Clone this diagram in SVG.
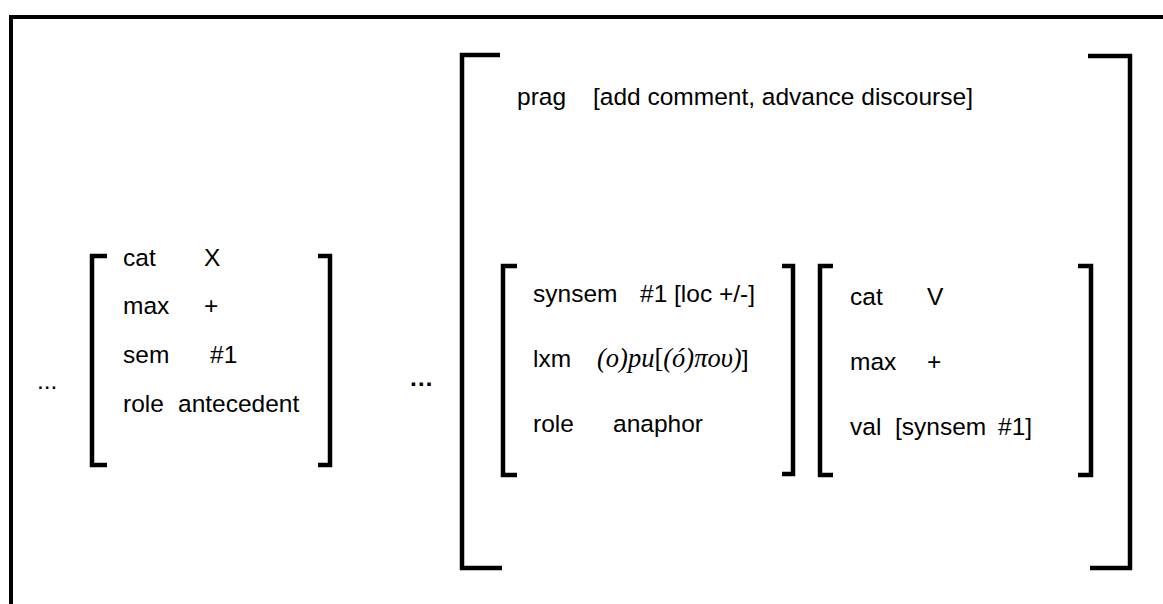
<svg xmlns="http://www.w3.org/2000/svg" width="1163" height="604" viewBox="0 0 1163 604">
<style>
.br{fill:none;stroke:#000;stroke-width:4.5;stroke-linejoin:miter;stroke-linecap:butt}
.fr{fill:none;stroke:#000;stroke-width:4}
text{font-family:"Liberation Sans",Arial,sans-serif;font-size:24.5px;fill:#000}
.gr{font-family:"Liberation Serif","Times New Roman",serif;font-size:26.5px;font-style:italic}
.gu{font-family:"Liberation Serif","Times New Roman",serif;font-size:26.5px}
.el{font-weight:bold}
</style>
<rect width="1163" height="604" fill="#fff"/>
<g id="frame">
<path class="fr" d="M11,604 V17 H1163"/>
</g>
<g id="ellipsis-left">
<text x="37" y="389">...</text>
</g>
<g id="antecedent-avm">
<path class="br" d="M107,256 H92 V465 H107"/>
<path class="br" d="M318,256 H330 V465 H318"/>
<text x="123" y="266">cat</text><text x="204" y="266">X</text>
<text x="123" y="314">max</text><text x="204" y="314">+</text>
<text x="123" y="363">sem</text><text x="210" y="363">#1</text>
<text x="123" y="412">role</text><text x="178" y="412">antecedent</text>
</g>
<g id="ellipsis-mid">
<text class="el" x="409" y="386">…</text>
</g>
<g id="outer-avm">
<path class="br" d="M500,55 H462 V568 H502"/>
<path class="br" d="M1088,56 H1130 V568 H1090"/>
<text x="517" y="105">prag</text><text x="593" y="105">[add comment, advance discourse]</text>
</g>
<g id="anaphor-avm">
<path class="br" d="M517,266 H503 V475 H517"/>
<path class="br" d="M782,266 H793 V474 H782"/>
<text x="533" y="302">synsem</text><text x="640" y="302">#1 [loc +/-]</text>
<text x="533" y="367">lxm</text>
<text x="597" y="367"><tspan class="gr">(o)pu</tspan><tspan class="gu">[</tspan><tspan class="gr">(ó)που)</tspan>]</text>
<text x="533" y="432">role</text><text x="613" y="432">anaphor</text>
</g>
<g id="verb-avm">
<path class="br" d="M833,266 H820 V475 H833"/>
<path class="br" d="M1078,266 H1091 V475 H1078"/>
<text x="850" y="305">cat</text><text x="927" y="305">V</text>
<text x="850" y="370">max</text><text x="927" y="370">+</text>
<text x="850" y="435">val</text><text x="895" y="435">[synsem</text><text x="998" y="435">#1]</text>
</g>
</svg>
